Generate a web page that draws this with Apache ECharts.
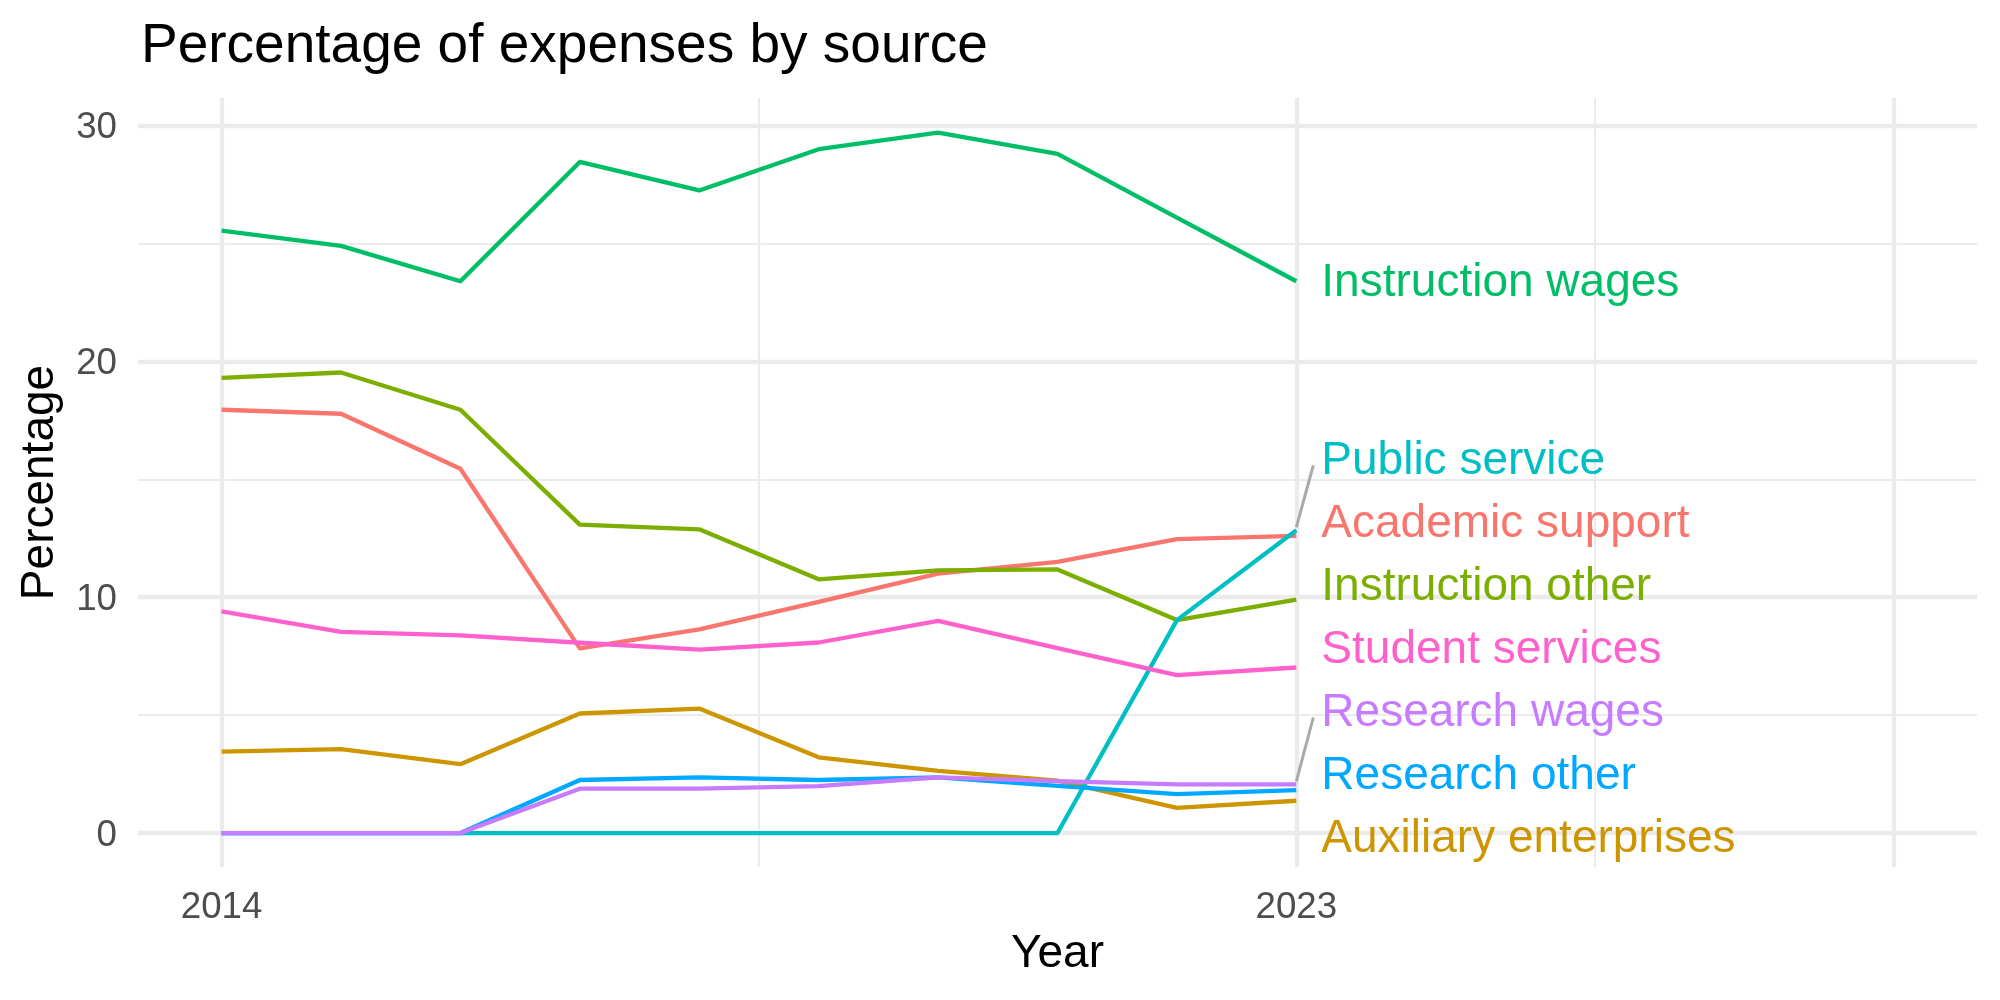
<!DOCTYPE html>
<html><head><meta charset="utf-8">
<script src="https://cdn.jsdelivr.net/npm/echarts@6/dist/echarts.min.js"></script>
<style>html,body{margin:0;padding:0;background:#fff}#c{width:2000px;height:1000px}</style>
</head><body><div id="c"></div>
<script>
// ---------- data ----------
const years = [2014, 2015, 2016, 2017, 2018, 2019, 2020, 2021, 2022, 2023];
const categories = ['Academic support', 'Auxiliary enterprises', 'Instruction other', 'Instruction wages',
  'Public service', 'Research other', 'Research wages', 'Student services'];
const academicSupport      = [17.95, 17.78, 15.45, 7.83, 8.64, 9.8, 11.0, 11.5, 12.46, 12.6];
const auxiliaryEnterprises = [3.45, 3.56, 2.92, 5.07, 5.28, 3.21, 2.64, 2.22, 1.07, 1.37];
const instructionOther     = [19.3, 19.53, 17.95, 13.08, 12.88, 10.76, 11.14, 11.18, 9.03, 9.9];
const instructionWages     = [25.55, 24.9, 23.4, 28.46, 27.25, 29.0, 29.7, 28.8, 26.1, 23.4];
const publicService        = [0, 0, 0, 0, 0, 0, 0, 0, 9.03, 12.84];
const researchOther        = [0, 0, 0, 2.25, 2.36, 2.25, 2.36, 2.0, 1.65, 1.82];
const researchWages        = [0, 0, 0, 1.88, 1.88, 1.99, 2.36, 2.2, 2.06, 2.06];
const studentServices      = [9.4, 8.53, 8.38, 8.07, 7.78, 8.08, 9.0, 7.84, 6.7, 7.02];
const seriesValues = [academicSupport, auxiliaryEnterprises, instructionOther, instructionWages,
  publicService, researchOther, researchWages, studentServices];
const xTickLabels = [2014, 2023];
const xMajorGrid = [2014, 2023, 2028];
const xMinorGrid = [2018.5, 2025.5];
const yTickLabels = [0, 10, 20, 30];
const yMinorGrid = [5, 15, 25];

// ---------- style / layout ----------
const colors = ['#F8766D', '#CD9600', '#7CAE00', '#00BE67', '#00BFC4', '#00A9FF', '#C77CFF', '#FF61CC'];
const labelDy = [-11.5, 38.5, -12.1, 2.5, -69, -14, -71.1, -17.5];   // pixel offsets of repelled labels
const withSegment = [false, false, false, false, true, false, true, false];
const FONT = '"Liberation Sans", Arial, Helvetica, sans-serif';
const GRID = '#EBEBEB';

const chart = echarts.init(document.getElementById('c'), null, {renderer: 'canvas'});

const lineSeries = categories.map((name, i) => ({
  type: 'line', name, xAxisIndex: 0, yAxisIndex: 0,
  data: years.map((y, k) => [y, seriesValues[i][k]]),
  showSymbol: false, symbol: 'none',
  lineStyle: {color: colors[i], width: 4.3, join: 'round', cap: 'butt'},
  itemStyle: {color: colors[i]},
  animation: false, silent: true, z: 3 + i * 0.01
}));

const labelSeries = {
  type: 'custom', xAxisIndex: 0, yAxisIndex: 0, clip: false, silent: true, animation: false, z: 5,
  data: categories.map((c, i) => [years[years.length - 1], seriesValues[i][years.length - 1], i]),
  renderItem(params, api) {
    const i = api.value(2);
    const p = api.coord([api.value(0), api.value(1)]);
    const ly = p[1] + labelDy[i];
    const children = [];
    if (withSegment[i]) {
      children.push({type: 'line', shape: {x1: p[0], y1: p[1] - 3, x2: p[0] + 17, y2: ly + 4},
        style: {stroke: '#AAAAAA', lineWidth: 3}});
    }
    children.push({type: 'text', x: p[0] + 25, y: ly,
      style: {text: categories[i], fill: colors[i], font: '46px ' + FONT, align: 'left', verticalAlign: 'middle'}});
    return {type: 'group', children};
  }
};

const xMin = 2013.3, xMax = 2028.7, yMin = -1.44, yMax = 31.17;

chart.setOption({
  backgroundColor: '#ffffff',
  animation: false,
  title: {
    text: 'Percentage of expenses by source', left: 136, top: 14,
    textStyle: {fontFamily: FONT, fontSize: 55, fontWeight: 'normal', color: '#000000'}
  },
  grid: {left: 138, right: 23, top: 98, bottom: 133, containLabel: false},
  xAxis: [
    {
      type: 'value', min: xMin, max: xMax, name: 'Year', nameLocation: 'middle', nameGap: 64,
      nameTextStyle: {fontFamily: FONT, fontSize: 46, color: '#000000'},
      axisLine: {show: false},
      axisTick: {show: false, customValues: xMajorGrid},
      axisLabel: {customValues: xTickLabels, formatter: v => String(v), margin: 22,
        fontFamily: FONT, fontSize: 36.7, color: '#4D4D4D'},
      splitLine: {show: true, lineStyle: {color: GRID, width: 4.3}}
    },
    {
      type: 'value', min: xMin, max: xMax, position: 'bottom',
      axisLine: {show: false}, axisLabel: {show: false},
      axisTick: {show: false, customValues: xMinorGrid},
      splitLine: {show: true, lineStyle: {color: GRID, width: 2.2}}
    }
  ],
  yAxis: [
    {
      type: 'value', min: yMin, max: yMax, name: 'Percentage', nameLocation: 'middle', nameGap: 75,
      nameTextStyle: {fontFamily: FONT, fontSize: 46, color: '#000000'},
      axisLine: {show: false},
      axisTick: {show: false, customValues: yTickLabels},
      axisLabel: {customValues: yTickLabels, formatter: v => '{t|' + v + '}', margin: 21,
        rich: {t: {padding: [5, 0, 0, 0], fontFamily: FONT, fontSize: 36.7, color: '#4D4D4D'}},
        fontFamily: FONT, fontSize: 36.7, color: '#4D4D4D'},
      splitLine: {show: true, lineStyle: {color: GRID, width: 4.3}}
    },
    {
      type: 'value', min: yMin, max: yMax, position: 'left',
      axisLine: {show: false}, axisLabel: {show: false},
      axisTick: {show: false, customValues: yMinorGrid},
      splitLine: {show: true, lineStyle: {color: GRID, width: 2.2}}
    }
  ],
  series: [...lineSeries, labelSeries]
});
</script>
</body></html>
